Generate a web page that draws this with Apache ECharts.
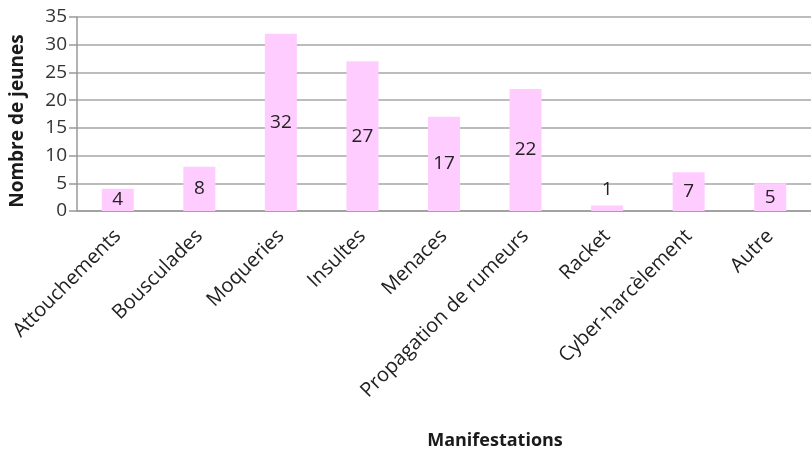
<!DOCTYPE html>
<html>
<head>
<meta charset="utf-8">
<script src="https://cdn.jsdelivr.net/npm/echarts@6/dist/echarts.min.js"></script>
<style>
  html, body { margin: 0; padding: 0; background: #fff; }
  #chart { width: 811px; height: 457px; }
</style>
</head>
<body>
<div id="chart"></div>
<script>
// catégories et valeurs
const categories = ["Attouchements", "Bousculades", "Moqueries", "Insultes", "Menaces",
  "Propagation de rumeurs", "Racket", "Cyber-harcèlement", "Autre"];
const values = [4, 8, 32, 27, 17, 22, 1, 7, 5];
const yTicks = [0, 5, 10, 15, 20, 25, 30, 35];

const font = "'Open Sans', 'Liberation Sans', sans-serif";

let chartDom = document.getElementById("chart");
let myChart = echarts.init(chartDom);

let option = {
  animation: false,
  grid: { left: 77, top: 17, width: 740, height: 194 },
  graphic: [
    {
      type: "text",
      x: 495,
      y: 441,
      style: {
        text: "Manifestations",
        font: "bold 18px " + font,
        fill: "#1a1a1a",
        align: "center",
        verticalAlign: "middle",
      },
    },
  ],
  xAxis: {
    type: "category",
    data: categories,
    axisLine: { lineStyle: { color: "#999", width: 1.5 } },
    axisTick: { length: 7, lineStyle: { color: "#999", width: 1.5 } },
    axisLabel: {
      rotate: 45,
      interval: 0,
      margin: 22,
      fontSize: 20,
      fontFamily: font,
      color: "#222",
    },
  },
  yAxis: {
    type: "value",
    min: yTicks[0],
    max: yTicks[yTicks.length - 1],
    interval: 5,
    name: "Nombre de jeunes",
    nameLocation: "middle",
    nameGap: 50,
    nameTextStyle: { fontSize: 19, fontWeight: "bold", fontFamily: font, color: "#1a1a1a", padding: [0, 14, 0, 0] },
    axisLine: { show: true, lineStyle: { color: "#999", width: 1.5 } },
    axisTick: { show: true, length: 8, lineStyle: { color: "#999", width: 1.5 } },
    axisLabel: { fontSize: 19, fontFamily: font, color: "#333", margin: 10 },
    splitLine: { lineStyle: { color: "#a6a6a6", width: 1.5 } },
  },
  series: [
    {
      type: "bar",
      barWidth: 32,
      data: values.map((v) => ({
        value: v,
        label: { position: v < 2 ? "top" : "inside" },
      })),
      itemStyle: { color: "#ffccff" },
      label: {
        show: true,
        fontSize: 19,
        fontFamily: font,
        color: "#222",
        distance: 6,
      },
    },
  ],
};

option && myChart.setOption(option);
</script>
</body>
</html>
